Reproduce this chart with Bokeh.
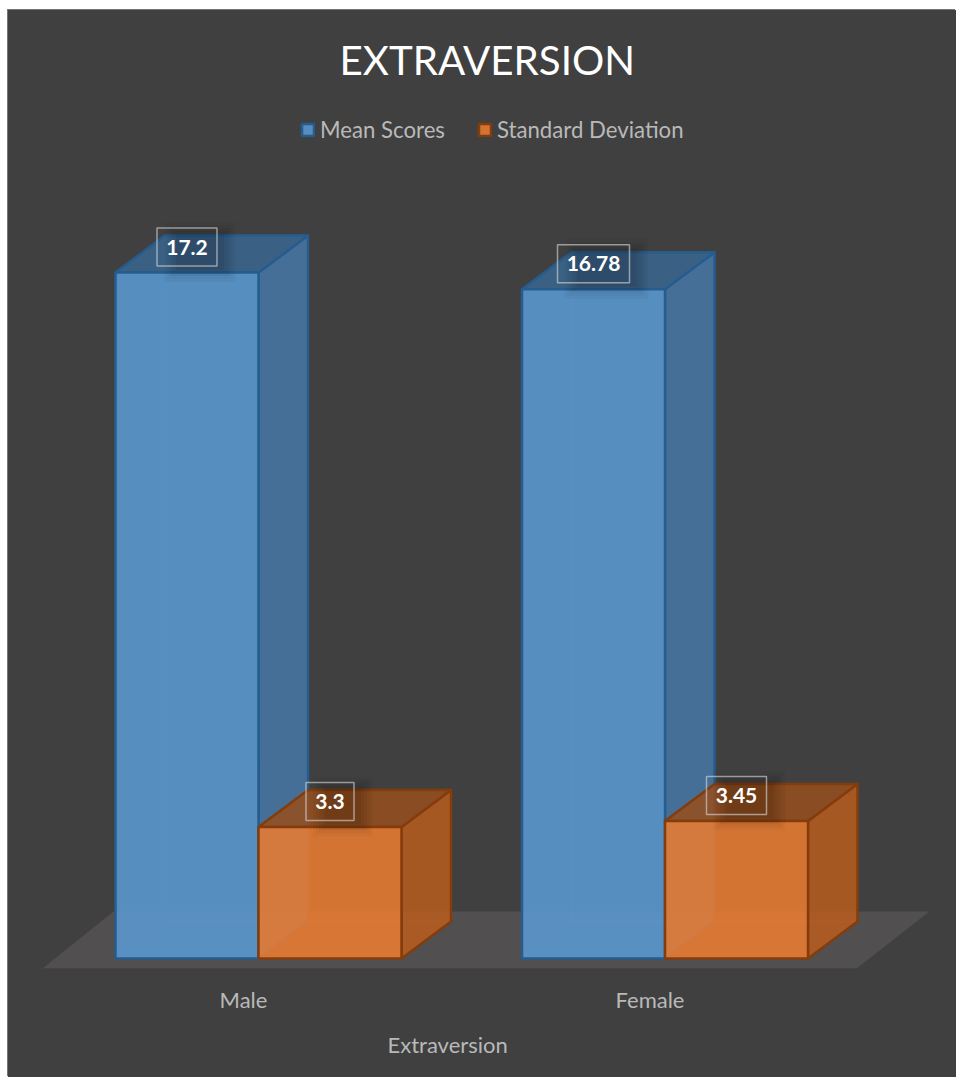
from bokeh.embed import file_html
from bokeh.resources import INLINE
from bokeh.plotting import figure
from bokeh.models import Range1d, FixedTicker, Legend, LegendItem, Title
from bokeh.core.properties import value

# Chart data
categories = ["Male", "Female"]
mean_scores = [17.2, 16.78]
standard_deviation = [3.3, 3.45]
mean_labels = ["17.2", "16.78"]
sd_labels = ["3.3", "3.45"]
series_names = ["Mean Scores", "Standard Deviation"]
axis_title = "Extraversion"

# Scale of the plot: pixels per category step and per score unit
PX_X = 406.5
PX_Y = 39.88
ORIGIN_X = 250.0   # distance from the frame's left edge to the first category
FRAME_W, FRAME_H = 948, 863
FLOOR_DROP = 10.0  # distance from the zero line down to the frame's bottom

BG = "#404040"
FONT = "Lato"

def sx(px):
    return px / PX_X

def sy(px):
    return px / PX_Y

BAR_W = sx(143)
DX, DY = sx(49.5), sy(37)

p = figure(
    width=FRAME_W, height=1067, frame_width=FRAME_W, frame_height=FRAME_H,
    x_range=Range1d(-ORIGIN_X / PX_X, (FRAME_W - ORIGIN_X) / PX_X),
    y_range=Range1d(-FLOOR_DROP / PX_Y, (FRAME_H - FLOOR_DROP) / PX_Y),
    output_backend="svg", toolbar_location=None,
    background_fill_color=None, border_fill_color=BG,
    min_border_left=0, min_border_right=0, min_border_top=90, min_border_bottom=109,
    margin=(10, 0, 0, 8),
    styles={"box-shadow": "-1px -1px 0 #757575", "background-color": BG},
)
p.outline_line_color = None
p.grid.visible = False
p.yaxis.visible = False

p.add_layout(
    Title(text="EXTRAVERSION", text_font=FONT, text_font_size="40.3px", text_font_style="normal",
          text_color="#ffffff", align="left", offset=331, standoff=44),
    "above",
)

# Category axis, its labels sit slightly left of the bar pairs' centre line
axis = p.xaxis[0]
tick_shift = sx(-15)
ticks = [i + tick_shift for i in range(len(categories))]
axis.ticker = FixedTicker(ticks=ticks)
axis.major_label_overrides = {t: c for t, c in zip(ticks, categories)}
axis.axis_line_color = None
axis.major_tick_line_color = None
axis.minor_tick_line_color = None
axis.major_label_text_color = "#b9b9b9"
axis.major_label_text_font = FONT
axis.major_label_text_font_size = "22px"
axis.major_label_standoff = 11

p.add_layout(
    Title(text=axis_title, text_font=FONT, text_font_size="22px", text_font_style="normal",
          text_color="#b9b9b9", align="left", offset=379, standoff=26),
    "below",
)

# Floor of the 3D scene
floor_x = [sx(-216), sx(598), sx(671), sx(-145)]
floor_y = [sy(-10), sy(-10), sy(47), sy(47)]
p.patch(floor_x, floor_y, fill_color="#514f4f", line_color=None)


def draw_series(values, left_edges, front, side, top, edge):
    """Draw translucent 3D columns: hidden faces first, then visible ones."""
    x0 = left_edges
    x1 = [x + BAR_W for x in x0]
    # back wall, left wall and bottom seen through the front
    p.quad(left=[x + DX for x in x0], right=[x + DX for x in x1],
           bottom=[DY] * len(x0), top=[v + DY for v in values],
           fill_color=front, fill_alpha=0.05, line_color=front, line_alpha=0.2, line_width=1)
    p.patches([[a, a + DX, a + DX, a] for a in x0],
              [[0, DY, v + DY, v] for v in values],
              fill_color=front, fill_alpha=0.05, line_color=None)
    p.patches([[a, b, b + DX, a + DX] for a, b in zip(x0, x1)],
              [[0, 0, DY, DY] for _ in x0],
              fill_color=front, fill_alpha=0.08, line_color=front, line_alpha=0.2, line_width=1)
    # right side and top faces
    p.patches([[b, b + DX, b + DX, b] for b in x1],
              [[0, DY, v + DY, v] for v in values],
              fill_color=side, fill_alpha=0.85, line_color=edge, line_width=2.5, line_join="round")
    p.patches([[a, b, b + DX, a + DX] for a, b in zip(x0, x1)],
              [[v, v, v + DY, v + DY] for v in values],
              fill_color=top, fill_alpha=0.85, line_color=edge, line_width=2.5, line_join="round")
    return p.quad(left=x0, right=x1, bottom=[0] * len(x0), top=values,
                  fill_color=front, fill_alpha=0.85, line_color=edge, line_width=2.5)


idx = list(range(len(categories)))
blue = draw_series(mean_scores, [i - BAR_W for i in idx],
                   "#5B9BD5", "#4677A5", "#39668F", "#265C8E")
orange = draw_series(standard_deviation, idx,
                     "#ED7D31", "#B75C1E", "#974E1D", "#843C0C")


def draw_labels(values, labels, centers):
    """Value label: soft shadow, outlined box and bold white number."""
    widths = [12 + 12 * len(t) for t in labels]
    label_y = [v + sy(25.5) for v in values]
    for grow, alpha in [(22, 0.03), (16, 0.035), (10, 0.04), (4, 0.04), (-2, 0.05)]:
        p.rect(x=[c + sx(13) for c in centers], y=[y - sy(5) for y in label_y],
               width=[w + grow - 10 for w in widths], width_units="screen",
               height=38 + grow, height_units="screen",
               fill_color="#000000", fill_alpha=alpha, line_color=None)
    p.rect(x=centers, y=label_y, width=widths, width_units="screen",
           height=38, height_units="screen",
           fill_color=None, line_color="#cfcfcf", line_alpha=0.65, line_width=1.5)
    p.text(x=centers, y=label_y, text=labels, text_align="center", text_baseline="middle",
           text_color="#ffffff", text_font=value(FONT), text_font_style="bold",
           text_font_size="21px")


draw_labels(mean_scores, mean_labels, [i - BAR_W / 2 for i in idx])
draw_labels(standard_deviation, sd_labels, [i + BAR_W / 2 for i in idx])

legend = Legend(
    items=[LegendItem(label=series_names[0], renderers=[blue]),
           LegendItem(label=series_names[1], renderers=[orange])],
    orientation="horizontal", location=(292, 825),
    background_fill_alpha=0, border_line_color=None,
    label_text_color="#b9b9b9", label_text_font=FONT, label_text_font_size="22.2px",
    glyph_width=15, glyph_height=15, label_standoff=5, spacing=32,
    padding=0, margin=0, label_height=20,
)
p.add_layout(legend, "center")

open("out.html", "w").write(file_html(p, INLINE))
